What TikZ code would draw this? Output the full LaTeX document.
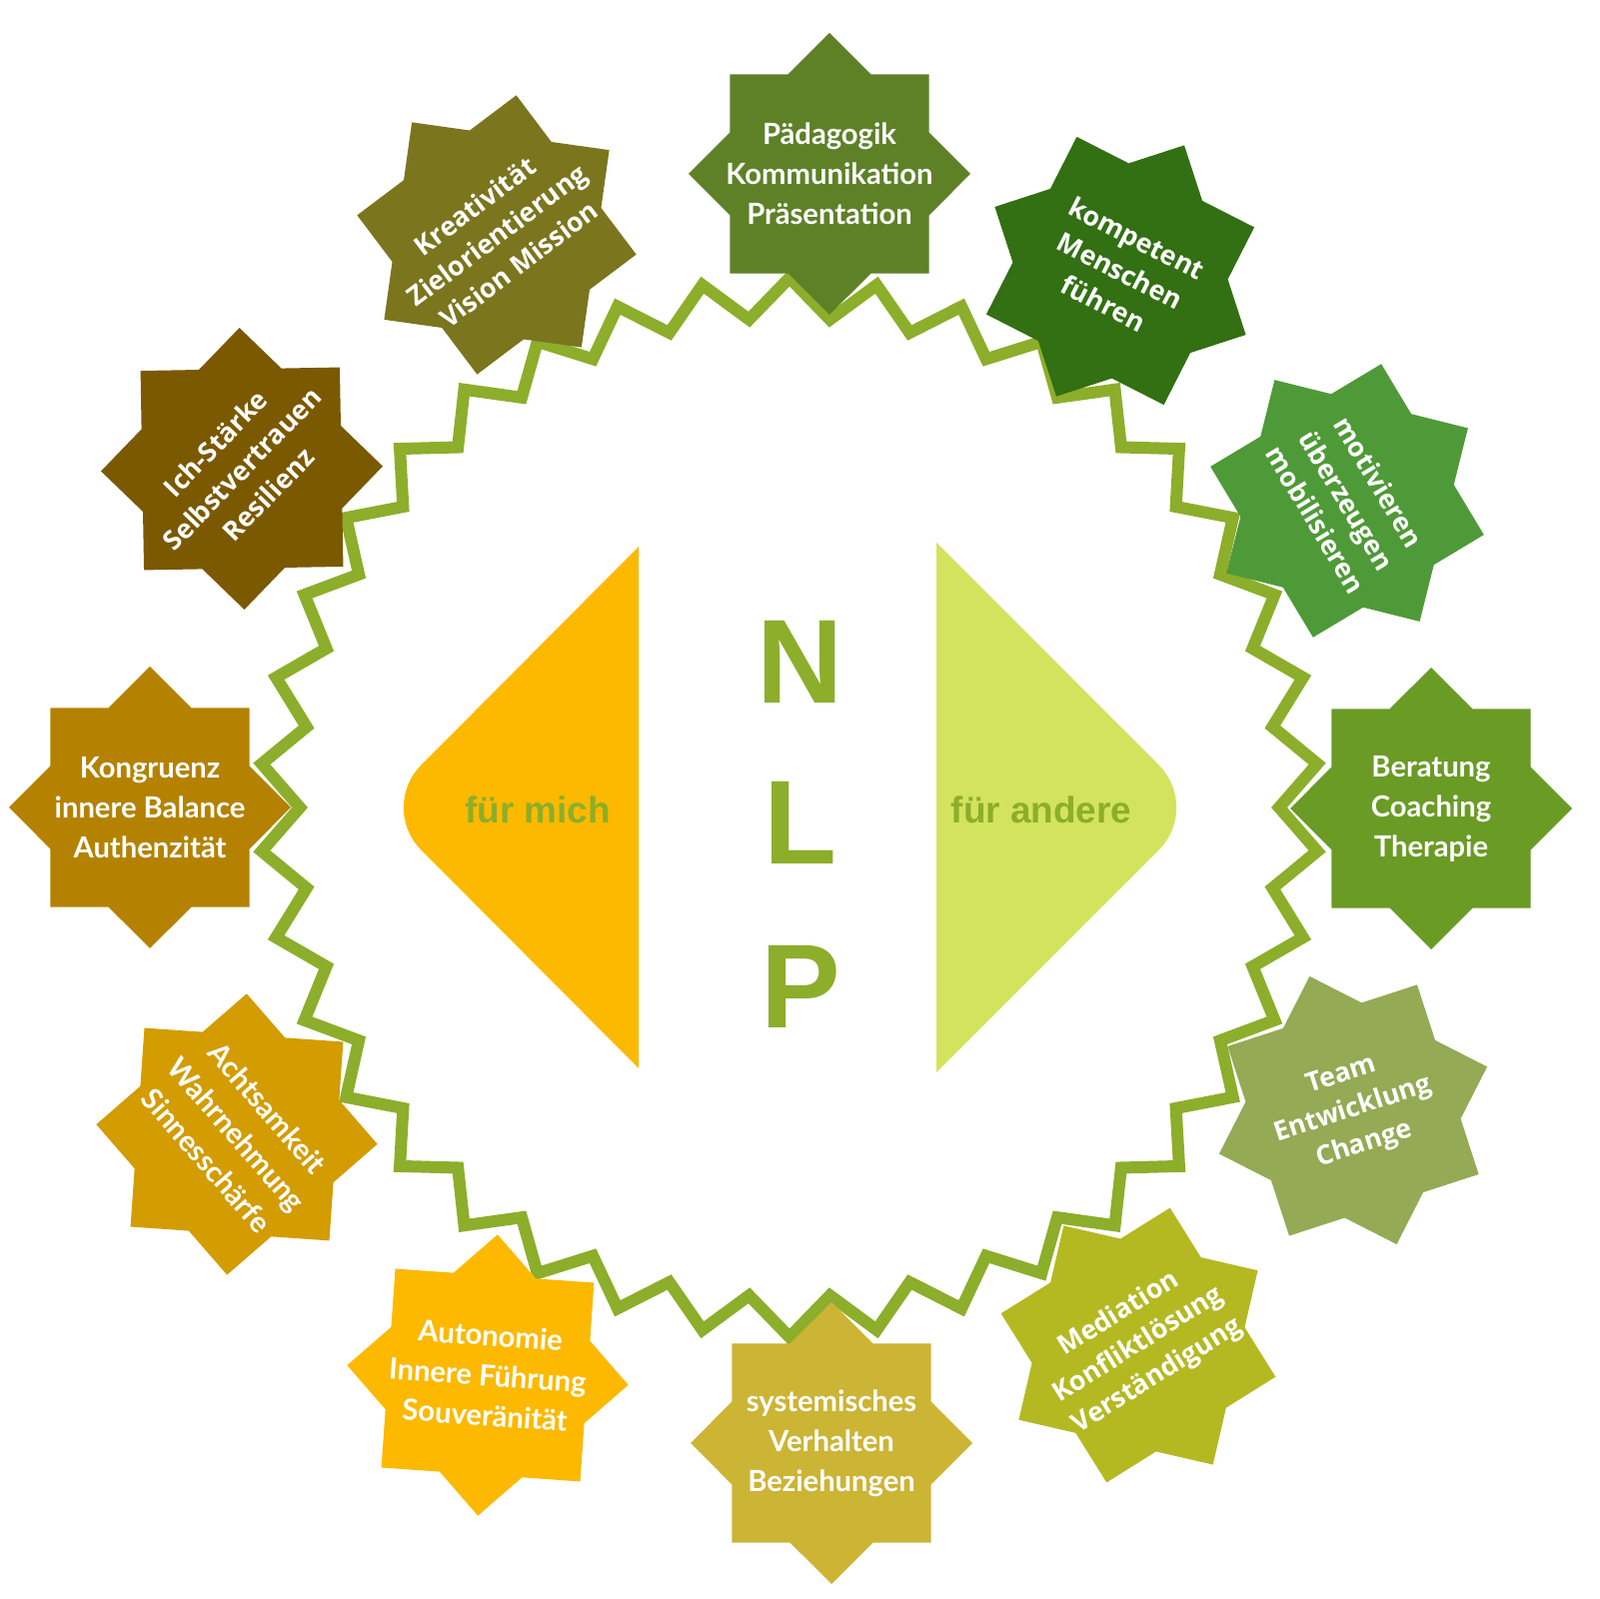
\documentclass[tikz,border=0pt]{standalone}
\usepackage{fontspec}
\setmainfont{Liberation Sans}
\newfontfamily\latofont{Lato}
\newfontfamily\opensansfont{Open Sans}
\definecolor{RingGreen}  {HTML}{8CAE2B}
\definecolor{MichOrange} {HTML}{FDB900}
\definecolor{AndereLime} {HTML}{D3E35E}
\definecolor{StarA}{HTML}{5E8128}
\definecolor{StarB}{HTML}{336F13}
\definecolor{StarC}{HTML}{4F9A38}
\definecolor{StarD}{HTML}{6A9B25}
\definecolor{StarE}{HTML}{94AA55}
\definecolor{StarF}{HTML}{B4B922}
\definecolor{StarG}{HTML}{CCB435}
\definecolor{StarH}{HTML}{FDB900}
\definecolor{StarI}{HTML}{D39C00}
\definecolor{StarJ}{HTML}{B48200}
\definecolor{StarK}{HTML}{7B5900}
\definecolor{StarL}{HTML}{7B751E}
\usetikzlibrary{shapes.geometric}

\begin{document}
\begin{tikzpicture}[x=0.1mm,y=0.1mm,
  starbox/.style={star,star points=8,star point ratio=1.3066,
                  minimum size=28.2mm,inner sep=0pt},
  latotext/.style={text=white,align=center,inner sep=0pt,
                   font=\latofont\bfseries\fontsize{8.3}{11.4}\selectfont},
  opentext/.style={text=white,align=center,inner sep=0pt,
                   font=\opensansfont\bfseries\fontsize{7.6}{10.4}\selectfont},
  zigline/.style={draw=RingGreen,line width=1.2mm},
  sidetext/.style={font=\bfseries\fontsize{10.5}{12}\selectfont,
                   text=RingGreen,anchor=base,inner sep=0pt},
  bigletter/.style={font=\bfseries\fontsize{34}{40}\selectfont,
                    text=RingGreen,anchor=base,inner sep=0pt}]
  \useasboundingbox (0,0) rectangle (1600,1600);
  \def\zs{9.4737}
  % zigzag ring
  \coordinate (M) at (790,792);
  \draw[zigline,shift={(M)}] (90:530)
    \foreach \k in {1,...,37} {-- ({90+(\k-0.5)*\zs}:490) -- ({90+\k*\zs}:530)}
    -- ({90-0.5*\zs}:490) -- cycle;
  % the two halves
  \fill[MichOrange] (639,1053) -- (421.4,834.4)
    arc[start angle=135,end angle=225,radius=60] -- (639,531) -- cycle;
  \fill[AndereLime] (937,1057) -- (1159.6,834.4)
    arc[start angle=45,end angle=-45,radius=60] -- (937,527) -- cycle;
  \node[sidetext] (mich) at (538,776) {für mich};
  \node[sidetext] (andere) at (1042,776) {für andere};
  \node[bigletter] (N) at (801,896) {N};
  \node[bigletter] (L) at (801,735) {L};
  \node[bigletter] (P) at (801,571) {P};
  % the twelve stars
  \foreach \x/\y/\r/\col/\fnt/\txt [count=\i] in {
    830/1426/0/StarA/latotext/{Pädagogik\\Kommunikation\\Präsentation},
    1121/1329/-27/StarB/opentext/{kompetent\\Menschen\\führen},
    1348/1099/-59/StarC/opentext/{motivieren\\überzeugen\\mobilisieren},
    1432/791/0/StarD/latotext/{Beratung\\Coaching\\Therapie},
    1354/489/18/StarE/opentext/{Team\\Entwicklung\\Change},
    1139/254/32/StarF/opentext/{Mediation\\Konfliktlösung\\Verständigung},
    832/156/0/StarG/latotext/{systemisches\\Verhalten\\Beziehungen},
    488/224/-4/StarH/latotext/{Autonomie\\Innere Führung\\Souveränität},
    237/465/-49/StarI/latotext/{Achtsamkeit\\Wahrnehmung\\Sinnesschärfe},
    150/792/0/StarJ/latotext/{Kongruenz\\innere Balance\\Authenzität},
    242/1131/46/StarK/opentext/{Ich-Stärke\\Selbstvertrauen\\Resilienz},
    497/1365/37/StarL/opentext/{Kreativität\\Zielorientierung\\Vision Mission}} {
    \node[starbox,fill=\col,rotate=\r] (s\i) at (\x,\y) {};
    \node[\fnt,rotate=\r] (t\i) at (s\i.center) {\txt};
  }
\end{tikzpicture}
\end{document}
